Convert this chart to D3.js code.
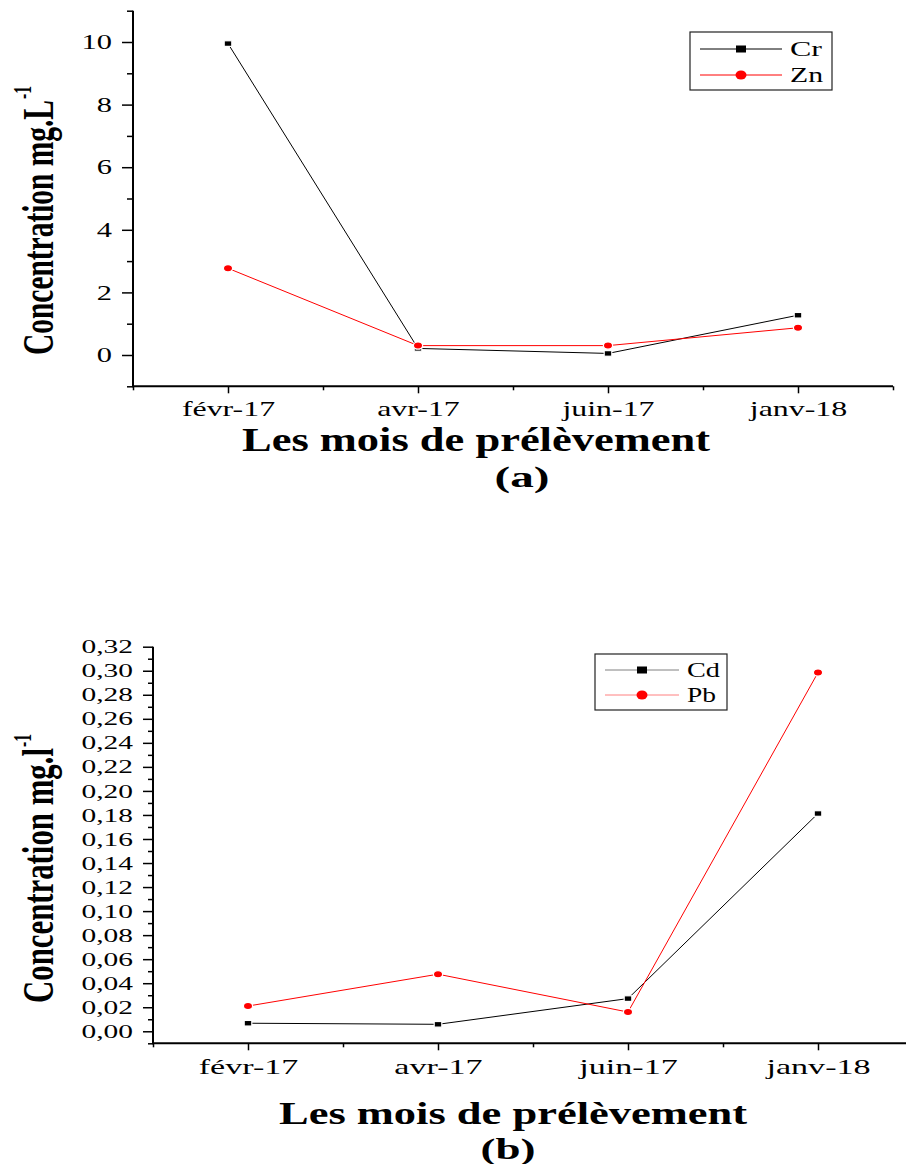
<!DOCTYPE html>
<html>
<head>
<meta charset="utf-8">
<script src="https://cdn.jsdelivr.net/npm/d3@7"></script>
<style>
  html, body { margin: 0; padding: 0; background: #fff; }
  svg { display: block; }
  text { font-family: "Liberation Serif", "Times New Roman", serif; fill: #000; }
</style>
</head>
<body>
<svg id="fig" width="906" height="1164"></svg>
<script>
// Sampling months (shared by both panels)
const months = ["févr-17", "avr-17", "juin-17", "janv-18"];

// Panel (a): chromium and zinc, mg/L
const crValues = [9.95, 0.21, 0.05, 1.27];
const znValues = [2.77, 0.30, 0.30, 0.87];
const yTicksA = [0, 2, 4, 6, 8, 10];

// Panel (b): cadmium and lead, mg/l
const cdValues = [0.0067, 0.0058, 0.0272, 0.1812];
const pbValues = [0.021, 0.0475, 0.016, 0.2985];
const yTicksB = d3.range(0, 0.3201, 0.02);

const RED = "#ff0000";
const svg = d3.select("#fig");

// widen ordinary text horizontally around its own anchor
function stretchX(sel, sx) {
  sel.each(function () {
    const t = d3.select(this);
    const x = +t.attr("x") || 0;
    t.attr("transform", `translate(${x},0) scale(${sx},1) translate(${-x},0)`);
  });
}

function panel(cfg) {
  const g = svg.append("g");
  const x = d3.scaleLinear().domain([-0.5, months.length - 0.5]).range([cfg.left, cfg.right]);
  const y = d3.scaleLinear().domain(cfg.yDomain).range([cfg.bottom, cfg.top]);

  // minor y ticks
  g.append("g").attr("transform", `translate(${cfg.left},0)`)
    .call(d3.axisLeft(y).tickValues(cfg.yMinor).tickSize(cfg.yMinorLen).tickFormat(""))
    .call(a => a.select(".domain").remove())
    .call(a => a.selectAll("line").attr("stroke-width", 1.5));

  // major y ticks + labels
  const ya = g.append("g").attr("transform", `translate(${cfg.left},0)`)
    .call(d3.axisLeft(y).tickValues(cfg.yTicks).tickSize(cfg.yMajorLen).tickPadding(10).tickFormat(cfg.yFormat))
    .call(a => a.select(".domain").remove());
  ya.selectAll("line").attr("stroke-width", 1.5);
  ya.selectAll("text").attr("font-size", cfg.yFont).attr("font-family", "Liberation Serif")
    .call(stretchX, cfg.sx);

  // minor x ticks between months
  g.append("g").attr("transform", `translate(0,${cfg.bottom})`)
    .call(d3.axisBottom(x).tickValues(d3.range(-0.5, months.length, 1)).tickSize(4).tickFormat(""))
    .call(a => a.select(".domain").remove())
    .call(a => a.selectAll("line").attr("stroke-width", 1.5));

  // month ticks + labels
  const xa = g.append("g").attr("transform", `translate(0,${cfg.bottom})`)
    .call(d3.axisBottom(x).tickValues(d3.range(months.length)).tickSize(7).tickFormat(i => months[i]))
    .call(a => a.select(".domain").remove());
  xa.selectAll("line").attr("stroke-width", 1.5);
  xa.selectAll("text").attr("font-size", cfg.xFont).attr("font-family", "Liberation Serif")
    .attr("y", cfg.xLabelOffset).attr("dy", 0)
    .call(stretchX, cfg.sx);

  // axis frame lines (left and bottom)
  g.append("line").attr("x1", cfg.left).attr("x2", cfg.left)
    .attr("y1", y(cfg.yDomain[1])).attr("y2", cfg.bottom)
    .attr("stroke", "#000").attr("stroke-width", 2);
  g.append("line").attr("x1", cfg.left - 1).attr("x2", cfg.right)
    .attr("y1", cfg.bottom).attr("y2", cfg.bottom)
    .attr("stroke", "#000").attr("stroke-width", 2);

  // series
  const line = d3.line().x((d, i) => x(i)).y(d => y(d));
  cfg.series.forEach(s => {
    g.append("path").datum(s.values).attr("d", line)
      .attr("fill", "none").attr("stroke", s.color).attr("stroke-width", 1);
  });
  cfg.series.forEach(s => {
    const m = g.append("g");
    if (s.shape === "square") {
      m.selectAll("rect").data(s.values).join("rect")
        .attr("x", (d, i) => x(i) - 3.8).attr("y", d => y(d) - 2.8)
        .attr("width", 7.6).attr("height", 5.6)
        .attr("fill", s.color).attr("stroke", "#fff").attr("stroke-width", 1.2);
    } else {
      m.selectAll("ellipse").data(s.values).join("ellipse")
        .attr("cx", (d, i) => x(i)).attr("cy", d => y(d))
        .attr("rx", 4.6).attr("ry", 3.6)
        .attr("fill", s.color).attr("stroke", "#fff").attr("stroke-width", 1.2);
    }
  });

  // legend
  const L = cfg.legend;
  g.append("rect").attr("x", L.x).attr("y", L.y).attr("width", L.w).attr("height", L.h)
    .attr("fill", "#fff").attr("stroke", "#222").attr("stroke-width", 1.2);
  cfg.series.forEach((s, k) => {
    const cy = L.y + L.row0 + k * L.dy;
    g.append("line").attr("x1", L.x + 10).attr("x2", L.x + 10 + L.lineLen)
      .attr("y1", cy).attr("y2", cy).attr("stroke", s.legendColor).attr("stroke-width", 1);
    const mx = L.x + 10 + L.lineLen / 2;
    if (s.shape === "square") {
      g.append("rect").attr("x", mx - 5).attr("y", cy - 3.5).attr("width", 10).attr("height", 7).attr("fill", s.color);
    } else {
      g.append("ellipse").attr("cx", mx).attr("cy", cy).attr("rx", 5.5).attr("ry", 4.5).attr("fill", s.color);
    }
    g.append("text").attr("x", L.x + L.textX).attr("y", cy + 7)
      .attr("font-size", 21).text(s.name)
      .attr("textLength", s.textLen).attr("lengthAdjust", "spacingAndGlyphs");
  });

  // y title, rotated
  const T = cfg.yTitle;
  g.append("text").attr("transform", `translate(${T.x},${T.y0}) rotate(-90)`)
    .attr("font-size", 45).attr("font-weight", "bold")
    .attr("textLength", T.len).attr("lengthAdjust", "spacingAndGlyphs")
    .text(T.text);
  g.append("text").attr("transform", `translate(${T.x - 22},${T.y0 - T.len - 1}) rotate(-90)`)
    .attr("font-size", 25).attr("font-weight", "bold")
    .attr("textLength", 13).attr("lengthAdjust", "spacingAndGlyphs")
    .text("-1");

  // x title and panel letter
  const X = cfg.xTitle;
  g.append("text").attr("x", X.x).attr("y", X.y)
    .attr("font-size", X.size).attr("font-weight", "bold")
    .attr("textLength", X.len).attr("lengthAdjust", "spacingAndGlyphs")
    .text("Les mois de prélèvement");
  g.append("text").attr("x", X.lx).attr("y", X.ly).attr("text-anchor", "middle")
    .attr("font-size", 29).attr("font-weight", "bold")
    .attr("textLength", 55).attr("lengthAdjust", "spacingAndGlyphs")
    .text(X.letter);
}

panel({
  left: 133, right: 893, top: 10.7, bottom: 386.3,
  yDomain: [-1, 11], yTicks: yTicksA, yMinor: [-1, 1, 3, 5, 7, 9, 11],
  yMajorLen: 11, yMinorLen: 6, yFormat: d3.format("d"),
  yFont: 21, xFont: 22, sx: 1.45, xLabelOffset: 30,
  series: [
    { name: "Cr", values: crValues, color: "#000", legendColor: "#000", shape: "square", textLen: 32 },
    { name: "Zn", values: znValues, color: RED, legendColor: RED, shape: "circle", textLen: 33 }
  ],
  legend: { x: 690, y: 32, w: 142, h: 58, row0: 17, dy: 26, lineLen: 82, textX: 100 },
  yTitle: { text: "Concentration mg.L", x: 53, y0: 355, len: 255 },
  xTitle: { x: 242, y: 451, len: 468, size: 34, lx: 522, ly: 487, letter: "(a)" }
});

panel({
  left: 153, right: 913, top: 646.7, bottom: 1043.3,
  yDomain: [-0.01, 0.32], yTicks: yTicksB, yMinor: d3.range(-0.01, 0.32, 0.02),
  yMajorLen: 10, yMinorLen: 5, yFormat: d => d3.format(".2f")(d).replace(".", ","),
  yFont: 19, xFont: 22, sx: 1.55, xLabelOffset: 31,
  series: [
    { name: "Cd", values: cdValues, color: "#000", legendColor: "#808080", shape: "square", textLen: 33 },
    { name: "Pb", values: pbValues, color: RED, legendColor: "#ff8080", shape: "circle", textLen: 29 }
  ],
  legend: { x: 595, y: 654, w: 132, h: 56, row0: 16, dy: 25, lineLen: 74, textX: 92 },
  yTitle: { text: "Concentration mg.l", x: 53, y0: 1003, len: 255 },
  xTitle: { x: 279, y: 1124, len: 468, size: 31, lx: 508, ly: 1159, letter: "(b)" }
});
</script>
</body>
</html>
